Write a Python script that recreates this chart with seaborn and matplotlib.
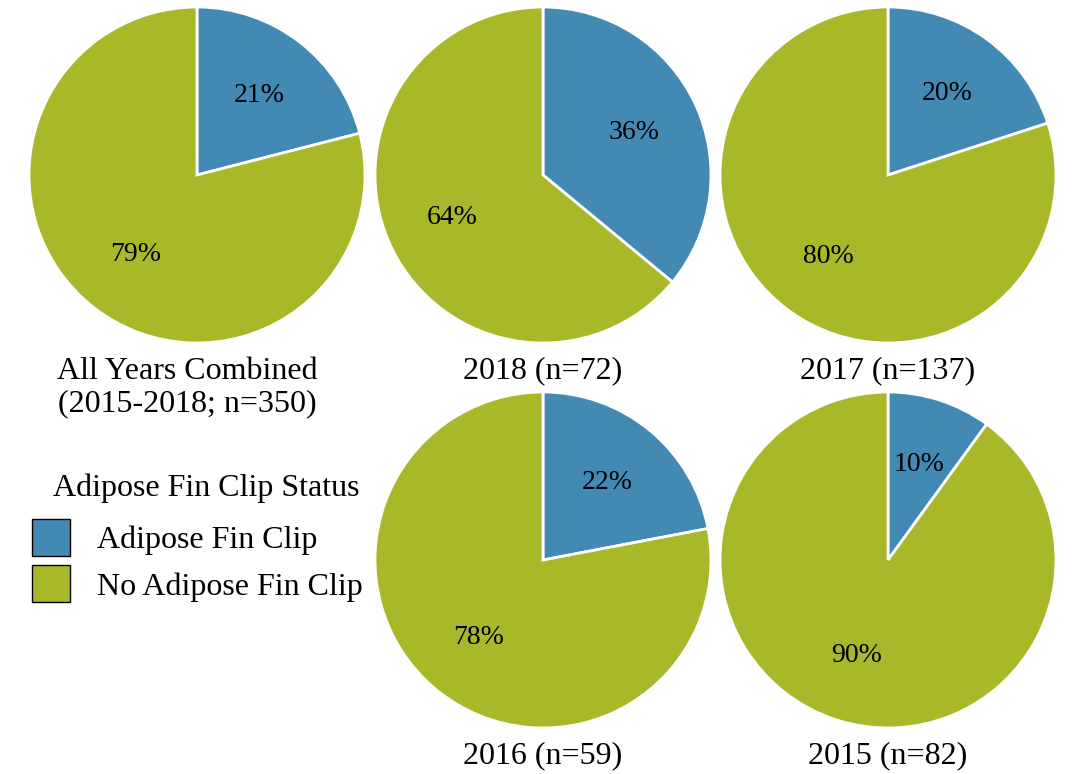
import matplotlib
matplotlib.use("Agg")
import matplotlib.pyplot as plt
import matplotlib.patches as mpatches
import seaborn as sns

# data
categories = ["Adipose Fin Clip", "No Adipose Fin Clip"]
titles = ["All Years Combined\n(2015-2018; n=350)", "2018 (n=72)", "2017 (n=137)",
          "2016 (n=59)", "2015 (n=82)"]
clipped = [21, 36, 20, 22, 10]
unclipped = [79, 64, 80, 78, 90]

COLORS = ["#4289b4", "#a8b829"]
W, H = 1074, 774

sns.set_theme(style="white")
plt.rcParams["font.family"] = ["Liberation Serif", "DejaVu Serif"]
plt.rcParams["text.color"] = "black"

fig = plt.figure(figsize=(W / 100, H / 100), dpi=100)
fig.patch.set_facecolor("white")

# pie centres in pixels (x, y from top), radius, and label y
centres = [(197, 175), (543, 175), (888, 175), (543, 560), (888, 560)]
label_y = [388, 371, 371, 756, 756]
R = 168

for i, (cx, cy) in enumerate(centres):
    ax = fig.add_axes([(cx - R) / W, 1 - (cy + R) / H, 2 * R / W, 2 * R / H])
    vals = [clipped[i], unclipped[i]]
    ax.pie(vals, colors=COLORS, startangle=90, counterclock=False,
           labels=[f"{v}%" for v in vals], labeldistance=0.6,
           textprops=dict(fontsize=20, color="black", ha="center", va="center"),
           wedgeprops=dict(edgecolor="white", linewidth=2))
    ax.set_aspect("equal")
    ax.set_xlim(-1, 1)
    ax.set_ylim(-1, 1)
    fig.text(cx / W - (0.009 if i == 0 else 0), 1 - label_y[i] / H, titles[i],
             ha="center", va="center", fontsize=23, linespacing=1.15)

# legend (title placed separately to keep its indent)
fig.text(53 / W, 1 - 488 / H, "Adipose Fin Clip Status",
         ha="left", va="center", fontsize=23)
handles = [mpatches.Patch(facecolor=c, edgecolor="black", linewidth=1) for c in COLORS]
fig.legend(handles, categories,
           loc="upper left", bbox_to_anchor=(24 / W, 1 - 511 / H),
           fontsize=23, frameon=False,
           handlelength=1.2, handleheight=1.4, handletextpad=0.85,
           labelspacing=0.3, borderaxespad=0, borderpad=0.25)

fig.savefig("out.png", dpi=100, facecolor="white")
